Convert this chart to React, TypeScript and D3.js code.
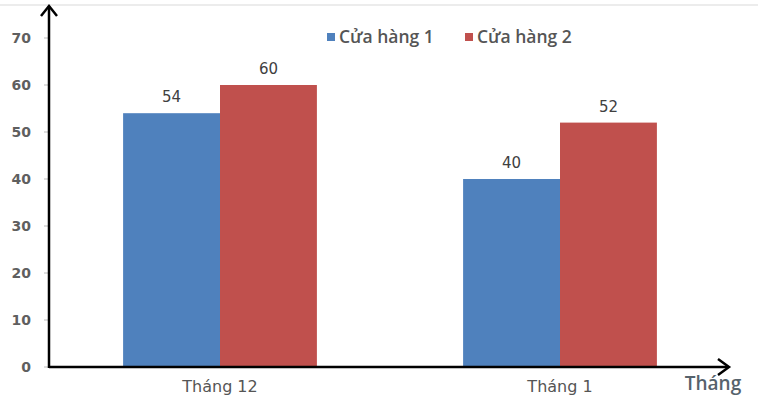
import React, { useEffect, useRef } from 'react';
import * as d3 from 'd3';

const categories = ['Tháng 12', 'Tháng 1'];
const seriesNames = ['Cửa hàng 1', 'Cửa hàng 2'];
const store1 = [54, 40];
const store2 = [60, 52];
const yTicks = [0, 10, 20, 30, 40, 50, 60, 70];
const colors = ['#4F81BD', '#C0504D'];

const App: React.FC = () => {
  const ref = useRef<SVGSVGElement>(null);

  useEffect(() => {
    if (!ref.current) return;
    const svg = d3.select(ref.current);
    svg.selectAll('*').remove();

    const width = 758;
    const height = 405;
    const left = 49;
    const bottom = 367;

    svg.attr('width', width).attr('height', height);
    svg.append('rect').attr('width', width).attr('height', height).attr('fill', '#fff');

    // faint line of the page above
    svg.append('line')
      .attr('x1', 0).attr('x2', width).attr('y1', 5).attr('y2', 5)
      .attr('stroke', '#ececec').attr('stroke-width', 2);

    const y = d3.scaleLinear().domain([0, 70]).range([bottom, 38]);

    const x0 = d3.scaleBand<string>()
      .domain(categories)
      .range([left + 1, 730])
      .paddingInner(0.43)
      .paddingOuter(0.215);

    const x1 = d3.scaleBand<string>()
      .domain(seriesNames)
      .range([0, x0.bandwidth()]);

    const rows = categories.map((c, i) => ({ cat: c, values: [store1[i], store2[i]] }));

    // y tick labels and tiny tick marks
    const yAxis = svg.append('g');
    yAxis.selectAll('text')
      .data(yTicks)
      .enter()
      .append('text')
      .attr('x', 31)
      .attr('y', d => y(d))
      .attr('dy', '0.35em')
      .attr('text-anchor', 'end')
      .attr('font-family', 'DejaVu Sans, sans-serif')
      .attr('font-size', '14px')
      .attr('font-weight', 'bold')
      .attr('fill', '#5f5f5f')
      .text(d => d);
    yAxis.selectAll('line')
      .data(yTicks)
      .enter()
      .append('line')
      .attr('x1', 44).attr('x2', left)
      .attr('y1', d => y(d)).attr('y2', d => y(d))
      .attr('stroke', '#bbb').attr('stroke-width', 1);

    // bars
    const groups = svg.selectAll('.grp')
      .data(rows)
      .enter()
      .append('g')
      .attr('transform', d => `translate(${x0(d.cat)},0)`);

    groups.selectAll('rect')
      .data(d => d.values.map((v, i) => ({ name: seriesNames[i], v, i })))
      .enter()
      .append('rect')
      .attr('x', d => x1(d.name) as number)
      .attr('y', d => y(d.v))
      .attr('width', x1.bandwidth())
      .attr('height', d => bottom - y(d.v))
      .attr('fill', d => colors[d.i]);

    groups.selectAll('.val')
      .data(d => d.values.map((v, i) => ({ name: seriesNames[i], v })))
      .enter()
      .append('text')
      .attr('x', d => (x1(d.name) as number) + x1.bandwidth() / 2)
      .attr('y', d => y(d.v) - 11)
      .attr('text-anchor', 'middle')
      .attr('font-family', 'DejaVu Sans, sans-serif')
      .attr('font-size', '15px')
      .attr('fill', '#404040')
      .text(d => d.v);

    // category labels
    svg.selectAll('.cat')
      .data(categories)
      .enter()
      .append('text')
      .attr('x', d => (x0(d) as number) + x0.bandwidth() / 2)
      .attr('y', 386)
      .attr('dy', '0.35em')
      .attr('text-anchor', 'middle')
      .attr('font-family', 'DejaVu Sans, sans-serif')
      .attr('font-size', '16px')
      .attr('fill', '#555')
      .text(d => d);

    // axes with arrows
    svg.append('line')
      .attr('x1', left).attr('x2', left).attr('y1', bottom + 1).attr('y2', 6)
      .attr('stroke', '#000').attr('stroke-width', 2.5);
    svg.append('path')
      .attr('d', `M${left - 8},${16} L${left},${6} L${left + 8},${16}`)
      .attr('fill', 'none').attr('stroke', '#000').attr('stroke-width', 2.5);

    svg.append('line')
      .attr('x1', left).attr('x2', 728).attr('y1', bottom).attr('y2', bottom)
      .attr('stroke', '#000').attr('stroke-width', 2.5);
    svg.append('path')
      .attr('d', `M${718},${bottom - 8} L${729},${bottom} L${718},${bottom + 8}`)
      .attr('fill', 'none').attr('stroke', '#000').attr('stroke-width', 2.5);

    svg.append('text')
      .attr('x', 713)
      .attr('y', 383)
      .attr('dy', '0.35em')
      .attr('text-anchor', 'middle')
      .attr('font-family', 'Open Sans, sans-serif')
      .attr('font-size', '19px')
      .attr('font-weight', 600)
      .attr('fill', '#56626c')
      .text('Tháng');

    // legend
    const legendX = [327, 465];
    const legend = svg.selectAll('.leg')
      .data(seriesNames)
      .enter()
      .append('g')
      .attr('transform', (_, i) => `translate(${legendX[i]},37)`);
    legend.append('rect')
      .attr('x', 0).attr('y', -4).attr('width', 8).attr('height', 8)
      .attr('fill', (_, i) => colors[i]);
    legend.append('text')
      .attr('x', 12)
      .attr('y', 0)
      .attr('dy', '0.35em')
      .attr('font-family', 'Open Sans, sans-serif')
      .attr('font-size', '17.5px')
      .attr('font-weight', 600)
      .attr('fill', '#555')
      .text(d => d);
  }, []);

  return <svg ref={ref} style={{ position: 'fixed', left: 0, top: 0 }} />;
};

export default App;
